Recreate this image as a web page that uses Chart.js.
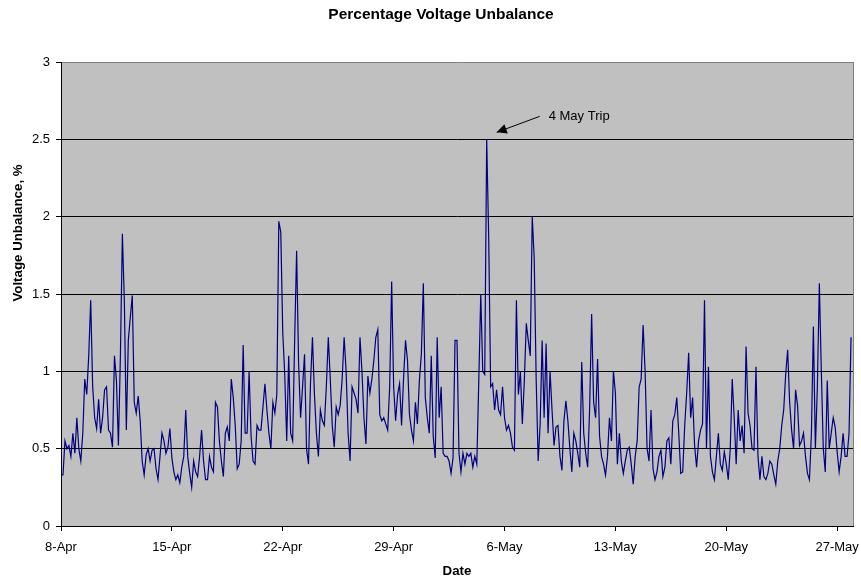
<!DOCTYPE html>
<html>
<head>
<meta charset="utf-8">
<script src="https://cdn.jsdelivr.net/npm/chart.js@4.4.1/dist/chart.umd.min.js"></script>
<style>
  html, body { margin: 0; padding: 0; background: #fff; }
  .chart-box { width: 861px; height: 581px; }
</style>
</head>
<body>
<div class="chart-box"><canvas id="chart" width="861" height="581"></canvas></div>
<script>

// text
const chartTitle = 'Percentage Voltage Unbalance';
const yTitle = 'Voltage Unbalance, %';
const xTitle = 'Date';
const tripNote = '4 May Trip';

// x axis: one tick a week, starting 8-Apr (day 0)
const dateLabels = ['8-Apr', '15-Apr', '22-Apr', '29-Apr', '6-May', '13-May', '20-May', '27-May'];
const daysShown = 50;

// y axis
const yTickLabels = ['0', '0.5', '1', '1.5', '2', '2.5', '3'];
const yStep = 0.5;

// readings every 3 hours, 8 per day, starting 8-Apr 00:00
const stepDays = 1 / 8;
const unbalance = [
  0.33, 0.33, 0.55, 0.5, 0.52, 0.45, 0.6, 0.47,     // 8-Apr
  0.7, 0.5, 0.42, 0.6, 0.95, 0.85, 1.1, 1.46,
  0.9, 0.7, 0.63, 0.82, 0.6, 0.7, 0.88, 0.9,
  0.62, 0.6, 0.51, 1.1, 0.94, 0.52, 1.1, 1.89,
  1.45, 0.62, 1.2, 1.35, 1.49, 0.8, 0.73, 0.84,
  0.68, 0.42, 0.33, 0.46, 0.5, 0.42, 0.49, 0.5,
  0.37, 0.3, 0.45, 0.6, 0.55, 0.47, 0.51, 0.63,
  0.44, 0.35, 0.3, 0.33, 0.28, 0.38, 0.45, 0.75,    // 15-Apr
  0.45, 0.34, 0.25, 0.42, 0.35, 0.32, 0.45, 0.62,
  0.42, 0.3, 0.3, 0.45, 0.38, 0.35, 0.8, 0.77,
  0.55, 0.42, 0.32, 0.6, 0.64, 0.55, 0.95, 0.83,
  0.65, 0.37, 0.4, 0.55, 1.17, 0.6, 0.6, 1.0,
  0.58, 0.42, 0.4, 0.65, 0.62, 0.62, 0.77, 0.92,
  0.75, 0.6, 0.5, 0.8, 0.73, 0.85, 1.97, 1.9,
  1.25, 0.98, 0.55, 1.1, 0.6, 0.55, 1.2, 1.78,      // 22-Apr
  1.05, 0.7, 0.9, 1.11, 0.5, 0.4, 0.92, 1.22,
  0.85, 0.6, 0.45, 0.75, 0.68, 0.65, 0.9, 1.22,
  0.95, 0.65, 0.51, 0.77, 0.72, 0.78, 0.95, 1.22,
  1.0, 0.6, 0.42, 0.9, 0.86, 0.82, 0.73, 1.22,
  1.0, 0.7, 0.53, 0.97, 0.86, 0.95, 1.07, 1.22,
  1.27, 0.72, 0.68, 0.7, 0.66, 0.62, 0.9, 1.58,
  0.9, 0.68, 0.85, 0.92, 0.65, 0.95, 1.2, 1.07,     // 29-Apr
  0.72, 0.62, 0.55, 0.8, 0.66, 0.94, 1.11, 1.57,
  0.83, 0.7, 0.6, 1.1, 0.58, 0.44, 1.22, 0.7,
  0.9, 0.47, 0.45, 0.45, 0.42, 0.34, 0.44, 1.2,
  1.2, 0.47, 0.35, 0.47, 0.4, 0.47, 0.45, 0.47,
  0.38, 0.45, 0.4, 0.94, 1.5, 1.0, 0.98, 2.5,       // 4-May trip
  1.87, 0.9, 0.92, 0.75, 0.88, 0.75, 0.72, 0.9,
  0.7, 0.62, 0.65, 0.6, 0.51, 0.49, 1.46, 0.85,     // 6-May
  1.0, 0.66, 0.94, 1.31, 1.2, 1.1, 2.0, 1.73,
  0.94, 0.42, 0.66, 1.2, 0.7, 1.18, 0.6, 1.0,
  0.75, 0.52, 0.64, 0.65, 0.45, 0.36, 0.68, 0.81,
  0.68, 0.5, 0.35, 0.6, 0.55, 0.47, 0.38, 1.06,
  0.6, 0.47, 0.38, 0.77, 1.37, 0.8, 0.7, 1.08,
  0.58, 0.45, 0.4, 0.33, 0.45, 0.7, 0.55, 1.0,
  0.86, 0.4, 0.6, 0.42, 0.34, 0.42, 0.49, 0.51,     // 13-May
  0.4, 0.27, 0.45, 0.55, 0.9, 0.95, 1.3, 1.0,
  0.5, 0.42, 0.75, 0.37, 0.3, 0.35, 0.45, 0.49,
  0.32, 0.38, 0.55, 0.57, 0.4, 0.68, 0.72, 0.83,
  0.6, 0.34, 0.35, 0.65, 0.86, 1.12, 0.7, 0.83,
  0.52, 0.38, 0.55, 0.62, 0.66, 1.46, 0.5, 1.03,
  0.45, 0.35, 0.3, 0.45, 0.6, 0.4, 0.36, 0.48,
  0.4, 0.3, 0.5, 0.95, 0.7, 0.4, 0.75, 0.55,        // 20-May
  0.65, 0.47, 1.16, 0.73, 0.65, 0.5, 0.49, 1.03,
  0.45, 0.3, 0.45, 0.32, 0.3, 0.34, 0.42, 0.4,
  0.33, 0.27, 0.42, 0.5, 0.65, 0.75, 0.98, 1.14,
  0.8, 0.62, 0.5, 0.88, 0.78, 0.52, 0.55, 0.6,
  0.45, 0.34, 0.3, 0.6, 1.29, 0.5, 0.9, 1.57,
  1.0, 0.5, 0.35, 0.94, 0.5, 0.6, 0.7, 0.64,
  0.48, 0.35, 0.45, 0.6, 0.45, 0.45, 0.6, 1.22      // 27-May
];

const font = 'Liberation Sans, Arial, sans-serif';

// plot background, right border, titles and the trip arrow
const frame = {
  id: 'frame',
  beforeDraw(chart) {
    const {ctx, chartArea: a} = chart;
    ctx.save();
    ctx.fillStyle = '#c0c0c0';
    ctx.fillRect(a.left, a.top, a.right - a.left, a.bottom - a.top);
    ctx.restore();
  },
  afterDraw(chart) {
    const {ctx, chartArea: a} = chart;
    const x = chart.scales.x, y = chart.scales.y;

    ctx.save();
    ctx.strokeStyle = '#808080';
    ctx.lineWidth = 1;
    ctx.beginPath();
    ctx.moveTo(Math.round(a.right) + 0.5, a.top);
    ctx.lineTo(Math.round(a.right) + 0.5, a.bottom);
    ctx.stroke();

    ctx.fillStyle = '#000';
    ctx.textAlign = 'center';
    ctx.textBaseline = 'middle';
    ctx.font = 'bold 15.5px ' + font;
    ctx.fillText(chartTitle, 441, 15);

    ctx.save();
    ctx.translate(18, 233);
    ctx.rotate(-Math.PI / 2);
    ctx.font = 'bold 13.3px ' + font;
    ctx.fillText(yTitle, 0, 0);
    ctx.restore();

    // arrow to the highest reading
    const peak = unbalance.indexOf(Math.max(...unbalance));
    const tx = x.getPixelForValue(peak * stepDays) + 10;
    const ty = y.getPixelForValue(unbalance[peak]) - 7;
    const sx = tx + 43, sy = ty - 16;
    const ang = Math.atan2(ty - sy, tx - sx);
    ctx.strokeStyle = '#000';
    ctx.beginPath();
    ctx.moveTo(sx, sy);
    ctx.lineTo(tx, ty);
    ctx.stroke();
    ctx.beginPath();
    ctx.moveTo(tx, ty);
    ctx.lineTo(tx - 10 * Math.cos(ang) + 5 * Math.sin(ang), ty - 10 * Math.sin(ang) - 5 * Math.cos(ang));
    ctx.lineTo(tx - 10 * Math.cos(ang) - 5 * Math.sin(ang), ty - 10 * Math.sin(ang) + 5 * Math.cos(ang));
    ctx.closePath();
    ctx.fill();

    ctx.textAlign = 'left';
    ctx.font = '13px ' + font;
    ctx.fillText(tripNote, tx + 52, ty - 16);
    ctx.restore();
  }
};

const points = unbalance.map((v, i) => ({x: i * stepDays, y: v}));

new Chart(document.getElementById('chart'), {
  type: 'line',
  data: {
    datasets: [{
      data: points,
      borderColor: '#000080',
      borderWidth: 1.2,
      pointRadius: 0,
      tension: 0,
      fill: false
    }]
  },
  options: {
    responsive: false,
    animation: false,
    devicePixelRatio: 1,
    layout: { padding: { top: 62, right: 8, left: 0, bottom: 0 } },
    plugins: {
      legend: { display: false },
      tooltip: { enabled: false }
    },
    scales: {
      x: {
        type: 'linear',
        min: 0,
        max: daysShown,
        afterFit: s => { s.height = 55; s.paddingLeft = 0; s.paddingRight = 0; },
        afterBuildTicks: s => { s.ticks = dateLabels.map((d, i) => ({value: i * 7})); },
        grid: { drawOnChartArea: false, drawTicks: true, tickLength: 5, color: '#000' },
        border: { color: '#000', width: 1 },
        ticks: {
          color: '#000',
          font: { family: font, size: 13 },
          padding: 9,
          maxRotation: 0,
          autoSkip: false,
          callback: (v, i) => dateLabels[i]
        },
        title: {
          display: true,
          text: xTitle,
          color: '#000',
          font: { family: font, size: 13.3, weight: 'bold' },
          padding: { top: 0, bottom: 2 }
        }
      },
      y: {
        min: 0,
        max: 3,
        afterFit: s => { s.width = 61; s.paddingTop = 0; s.paddingBottom = 0; },
        grid: {
          color: c => c.tick && c.tick.value === 3 ? '#808080' : '#000',
          tickColor: '#000',
          tickLength: 5,
          lineWidth: 1
        },
        border: { color: '#000', width: 1 },
        ticks: {
          stepSize: yStep,
          color: '#000',
          font: { family: font, size: 13 },
          padding: 6,
          callback: v => yTickLabels[Math.round(v / yStep)]
        }
      }
    }
  },
  plugins: [frame]
});

</script>
</body>
</html>
